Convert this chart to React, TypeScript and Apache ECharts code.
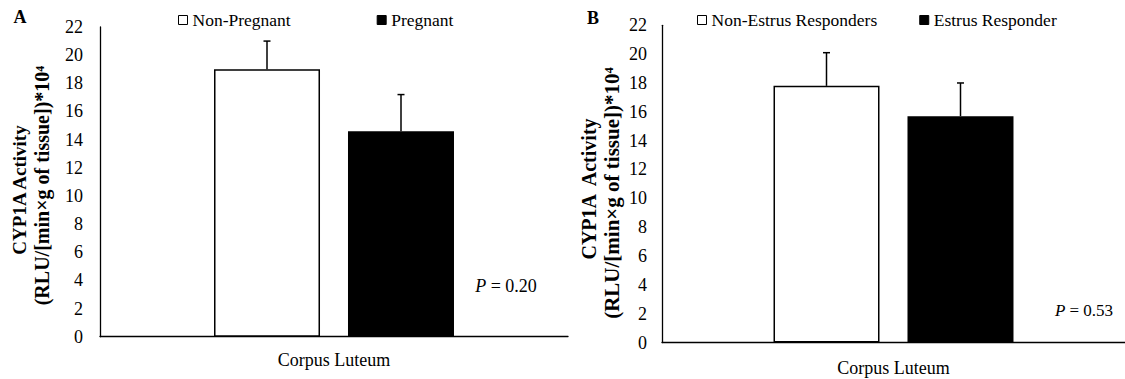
import React, { useEffect, useRef } from "react";
import * as echarts from "echarts";

const categories = ["Corpus Luteum"];
const yMin = 0;
const yMax = 22;
const yInterval = 2;

const panelALabels = ["Non-Pregnant", "Pregnant"];
const panelAMeans = [19.0, 14.6];
const panelASE = [2.0, 2.6];
const panelAP = "0.20";

const panelBLabels = ["Non-Estrus Responders", "Estrus Responder"];
const panelBMeans = [17.8, 15.7];
const panelBSE = [2.3, 2.3];
const panelBP = "0.53";

const yTitle1A = "CYP1A Activity";
const yTitle1B = "CYP1A  Activity";
const yTitle2 = "(RLU/[min×g of tissue])*10⁴";

const FONT = "Liberation Serif";
const BAR_W = 106;
const BAR_GAP_PX = 28;

function makeErrorSeries(gridIdx: number, means: number[], ses: number[]) {
  return {
    type: "custom",
    xAxisIndex: gridIdx,
    yAxisIndex: gridIdx,
    z: 5,
    silent: true,
    data: means.map((m, i) => [0, m, m + ses[i], i]),
    renderItem: (params: any, api: any) => {
      const cat = api.value(0);
      const mean = api.value(1);
      const top = api.value(2);
      const idx = api.value(3);
      const p0 = api.coord([cat, mean]);
      const p1 = api.coord([cat, top]);
      const off = (idx === 0 ? -1 : 1) * (BAR_W + BAR_GAP_PX) / 2;
      const x = p0[0] + off;
      const st = { stroke: "#000", lineWidth: 1.5 };
      return {
        type: "group",
        children: [
          { type: "line", shape: { x1: x, y1: p0[1], x2: x, y2: p1[1] }, style: st },
          { type: "line", shape: { x1: x - 3.5, y1: p1[1], x2: x + 3.5, y2: p1[1] }, style: st },
        ],
      };
    },
  };
}

function barSeries(name: string, value: number, gridIdx: number, color: string) {
  return {
    type: "bar",
    name,
    xAxisIndex: gridIdx,
    yAxisIndex: gridIdx,
    data: [value],
    barWidth: BAR_W,
    barGap: ((BAR_GAP_PX / BAR_W) * 100).toFixed(1) + "%",
    itemStyle: { color, borderColor: "#000", borderWidth: 1.5 },
  };
}

function txt(text: string, x: number, y: number, size: number, opts: any = {}) {
  return {
    type: "text",
    x,
    y,
    rotation: opts.rotation || 0,
    z: 10,
    style: {
      text,
      fontSize: size,
      fontFamily: FONT,
      fontWeight: opts.bold ? "bold" : "normal",
      fill: "#000",
      align: "center",
      verticalAlign: "middle",
      textAlign: "center",
      textVerticalAlign: "middle",
      rich: opts.rich,
    },
  };
}

export default function App() {
  const ref = useRef<HTMLDivElement>(null);
  useEffect(() => {
    document.body.style.margin = "0";
    if (!ref.current) return;
    const chart = echarts.init(ref.current, undefined, { renderer: "svg" });
    const axisCommon = {
      yAxis: {
        type: "value",
        min: yMin,
        max: yMax,
        interval: yInterval,
        axisLine: { show: true, lineStyle: { color: "#000", width: 1.3 } },
        axisTick: { show: false },
        splitLine: { show: false },
        axisLabel: { color: "#000", fontFamily: FONT, fontSize: 18 },
      },
      xAxis: {
        type: "category",
        data: categories,
        axisLine: { show: true, lineStyle: { color: "#000", width: 1.3 } },
        axisTick: { show: false },
        axisLabel: { color: "#000", fontFamily: FONT, fontSize: 18, margin: 14 },
      },
    };
    const pRich = { i: { fontStyle: "italic", fontFamily: FONT, fontSize: 18 } };
    const pRichB = { i: { fontStyle: "italic", fontFamily: FONT, fontSize: 17 } };
    chart.setOption({
      animation: false,
      backgroundColor: "#fff",
      textStyle: { fontFamily: FONT },
      grid: [
        { left: 100, top: 27, width: 468, bottom: 42.3, containLabel: false },
        { left: 662, top: 25.3, width: 470, bottom: 36.5, containLabel: false },
      ],
      xAxis: [
        { ...axisCommon.xAxis, gridIndex: 0 },
        { ...axisCommon.xAxis, gridIndex: 1, axisLabel: { ...axisCommon.xAxis.axisLabel, margin: 16 } },
      ],
      yAxis: [
        { ...axisCommon.yAxis, gridIndex: 0, axisLabel: { ...axisCommon.yAxis.axisLabel, margin: 17 } },
        { ...axisCommon.yAxis, gridIndex: 1, axisLabel: { ...axisCommon.yAxis.axisLabel, margin: 15 } },
      ],
      legend: [
        {
          data: panelALabels,
          left: 178,
          top: 11,
          padding: 0,
          icon: "rect",
          itemWidth: 9,
          itemHeight: 9,
          itemGap: 86,
          itemStyle: { borderColor: "#000", borderWidth: 1 },
          textStyle: { color: "#000", fontFamily: FONT, fontSize: 17.5 },
          selectedMode: false,
        },
        {
          data: panelBLabels,
          left: 697,
          top: 11,
          padding: 0,
          icon: "rect",
          itemWidth: 9,
          itemHeight: 9,
          itemGap: 42,
          itemStyle: { borderColor: "#000", borderWidth: 1 },
          textStyle: { color: "#000", fontFamily: FONT, fontSize: 17.5 },
          selectedMode: false,
        },
      ],
      series: [
        barSeries(panelALabels[0], panelAMeans[0], 0, "#fff"),
        barSeries(panelALabels[1], panelAMeans[1], 0, "#000"),
        makeErrorSeries(0, panelAMeans, panelASE),
        barSeries(panelBLabels[0], panelBMeans[0], 1, "#fff"),
        barSeries(panelBLabels[1], panelBMeans[1], 1, "#000"),
        makeErrorSeries(1, panelBMeans, panelBSE),
      ],
      graphic: [
        txt("A", 20, 17, 18, { bold: true }),
        txt("B", 593, 18, 18, { bold: true }),
        txt(yTitle1A, 19, 190, 19, { bold: true, rotation: Math.PI / 2 }),
        txt(yTitle2, 41.5, 185.5, 20, { bold: true, rotation: Math.PI / 2 }),
        txt(yTitle1B, 589, 189, 20, { bold: true, rotation: Math.PI / 2 }),
        txt(yTitle2, 611.5, 193, 21, { bold: true, rotation: Math.PI / 2 }),
        txt("{i|P} = " + panelAP, 506, 286, 18, { rich: pRich }),
        txt("{i|P} = " + panelBP, 1084, 310, 17, { rich: pRichB }),
      ],
    });
    return () => chart.dispose();
  }, []);
  return <div ref={ref} style={{ width: 1125, height: 379 }} />;
}
